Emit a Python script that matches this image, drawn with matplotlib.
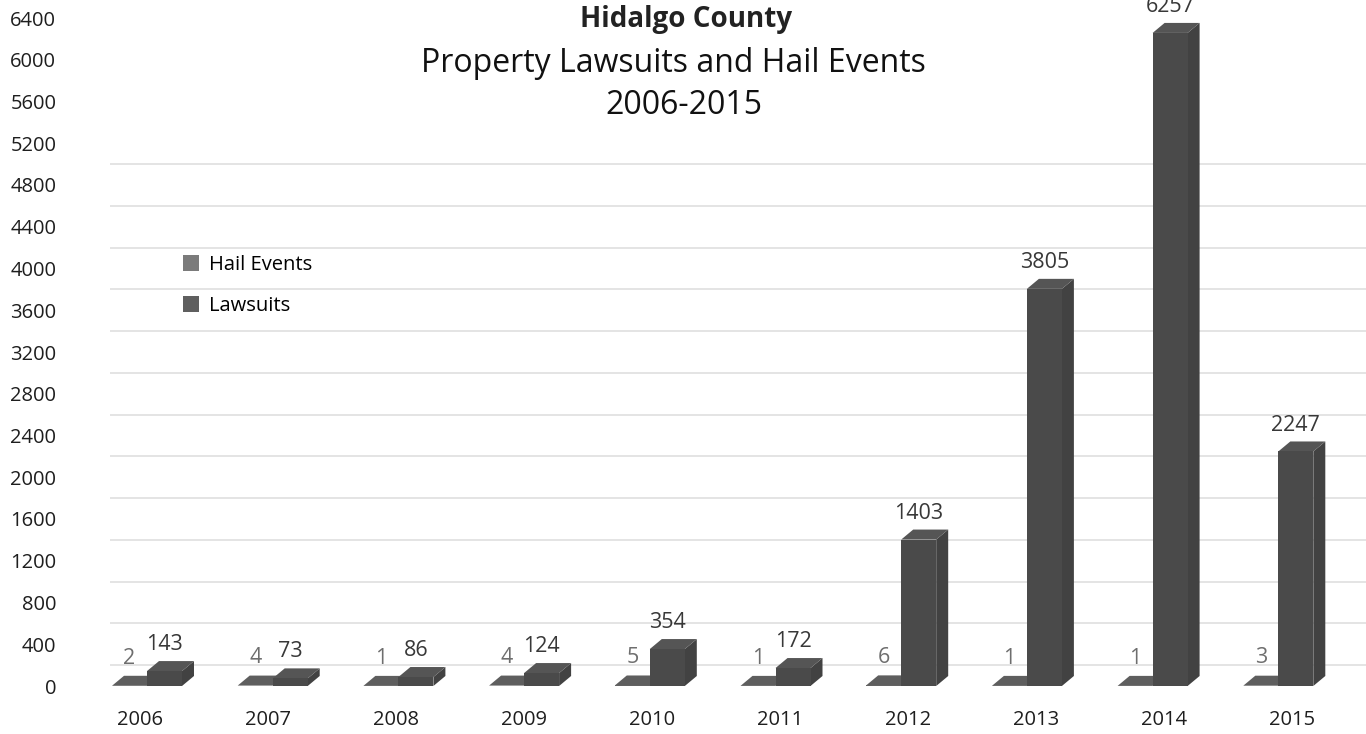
import matplotlib
matplotlib.use("Agg")
import matplotlib.pyplot as plt
from matplotlib.patches import Polygon, Patch

# Chart data
years = ["2006", "2007", "2008", "2009", "2010", "2011", "2012", "2013", "2014", "2015"]
hail_events = [2, 4, 1, 4, 5, 1, 6, 1, 1, 3]
lawsuits = [143, 73, 86, 124, 354, 172, 1403, 3805, 6257, 2247]
y_ticks = list(range(0, 6401, 400))
wall_grid = list(range(0, 4801, 400))

plt.rcParams["font.family"] = ["Open Sans", "DejaVu Sans"]

W, H = 1366, 734
fig = plt.figure(figsize=(W / 100, H / 100), dpi=100)
fig.patch.set_facecolor("white")

# plot area in pixels
px_left, px_floor, px_top = 100, 686, 18
ax = fig.add_axes([px_left / W, (H - px_floor) / H, 1 - px_left / W, (px_floor - px_top) / H])
ax.set_ylim(0, 6400)

# bar plane: one category per 125.7 px
unit_px, origin_px = 125.7, 147
ax.set_xlim((px_left - origin_px) / unit_px, (W - origin_px) / unit_px)
px_per_val = (px_floor - px_top) / 6400

bar_w = 35 / unit_px
dx = 12 / unit_px
dy = 10 / px_per_val
wall_shift = 21 / px_per_val

for s in ax.spines.values():
    s.set_visible(False)
ax.set_xticks([])
ax.set_yticks(y_ticks)
ax.set_yticklabels([str(v) for v in y_ticks])
ax.tick_params(axis="y", length=0, pad=31.5, labelsize=14.5, labelcolor="#1e1e1e")

# back wall gridlines
ax.hlines([v + wall_shift for v in wall_grid], (110 - origin_px) / unit_px, ax.get_xlim()[1],
          colors="#e2e2e2", linewidth=1.3, zorder=0)

hail_front, hail_top = "#676767", "#5e5e5e"
law_front, law_top, law_side = "#4a4a4a", "#555555", "#424242"

for i, (h, v) in enumerate(zip(hail_events, lawsuits)):
    # hail events column, sitting left of the lawsuits column
    x0 = i - bar_w
    ax.bar(x0, h, width=bar_w, align="edge", color=hail_front, zorder=2, linewidth=0)
    ax.add_patch(Polygon([(x0, h), (x0 + bar_w, h), (x0 + bar_w + dx, h + dy), (x0 + dx, h + dy)],
                         closed=True, facecolor=hail_top, edgecolor="none", zorder=2))
    # lawsuits column
    x1 = i
    ax.add_patch(Polygon([(x1 + bar_w, 0), (x1 + bar_w + dx, dy), (x1 + bar_w + dx, v + dy), (x1 + bar_w, v)],
                         closed=True, facecolor=law_side, edgecolor="none", zorder=3))
    ax.add_patch(Polygon([(x1, v), (x1 + bar_w, v), (x1 + bar_w + dx, v + dy), (x1 + dx, v + dy)],
                         closed=True, facecolor=law_top, edgecolor="none", zorder=3))
    ax.bar(x1, v, width=bar_w, align="edge", color=law_front, zorder=3, linewidth=0)

    ax.annotate(str(h), xy=(x0 + bar_w / 2, h), xytext=(0, 20), textcoords="offset points",
                ha="center", va="center", fontsize=15.5, color="#6e6e6e", annotation_clip=False)
    ax.annotate(str(v), xy=(x1 + bar_w / 2, v), xytext=(0, 19), textcoords="offset points",
                ha="center", va="center", fontsize=15.5, color="#383838", annotation_clip=False)

# category axis along the front edge of the floor
ax2 = ax.twiny()
ax2.set_xlim((px_left - 140) / 128, (W - 140) / 128)
ax2.set_xticks(range(len(years)))
ax2.set_xticklabels(years)
ax2.xaxis.set_ticks_position("bottom")
ax2.tick_params(axis="x", length=0, pad=17.5, labelsize=14.5, labelcolor="#1e1e1e",
                top=False, labeltop=False, bottom=True, labelbottom=True)
for s in ax2.spines.values():
    s.set_visible(False)

handles = [Patch(facecolor="#7b7b7b", label="Hail Events"),
           Patch(facecolor="#5f5f5f", label="Lawsuits")]
ax.legend(handles=handles, loc="upper left", bbox_to_anchor=(183 / W, 1 - 255 / H),
          bbox_transform=fig.transFigure, frameon=False, fontsize=14.5,
          handlelength=0.8, handleheight=0.8, handletextpad=0.5,
          labelspacing=1.05, borderpad=0, borderaxespad=0)

fig.text(686 / W, 1 - 19 / H, "Hidalgo County", ha="center", va="center",
         fontsize=20, fontweight="bold", color="#222222")
fig.text(673 / W, 1 - 64 / H, "Property Lawsuits and Hail Events", ha="center", va="center",
         fontsize=23, color="#111111")
fig.text(684 / W, 1 - 106 / H, "2006-2015", ha="center", va="center",
         fontsize=23, color="#111111")

fig.savefig("out.png", dpi=100, facecolor="white")
